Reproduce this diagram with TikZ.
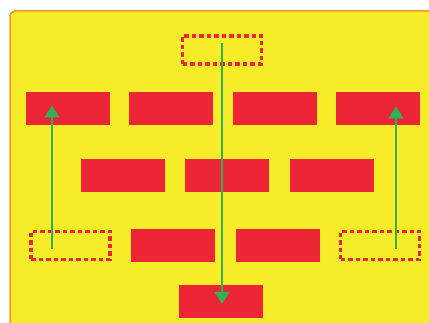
\documentclass[tikz,border=0pt]{standalone}
\usepackage{tikz}
\usetikzlibrary{arrows.meta,calc}
\definecolor{bg}{RGB}{246,236,42}
\definecolor{frame}{RGB}{240,150,50}
\definecolor{blk}{RGB}{236,38,52}
\definecolor{arr}{RGB}{48,178,84}
\tikzset{
  blkbox/.style={fill=blk,minimum width=84pt,minimum height=33pt,inner sep=0pt},
  gapbox/.style={draw=blk,dash pattern=on 4.5pt off 3pt,line width=3.4pt,minimum width=79pt,minimum height=28pt,inner sep=0pt},
  flow/.style={arr,line width=1.3pt,-{Triangle[length=12pt,width=15pt]}}
}

\begin{document}
\begin{tikzpicture}[x=1pt,y=-1pt]
  \useasboundingbox (0,0) rectangle (429,323);
  \clip (0,0) rectangle (429,323);
  \fill[white] (0,0) rectangle (429,323);
  \draw[frame,fill=bg,line width=1.5pt,rounded corners=5pt] (10,11) rectangle (445,340);
  % top gap
  \node[gapbox] (top) at (222,50) {};
  % row 1
  \node[blkbox] (a1) at (68,108.5) {};
  \node[blkbox] (a2) at (171,108.5) {};
  \node[blkbox] (a3) at (275,108.5) {};
  \node[blkbox] (a4) at (377.5,108.5) {};
  % row 2
  \node[blkbox] (b1) at (123,175.5) {};
  \node[blkbox] (b2) at (227,175.5) {};
  \node[blkbox] (b3) at (331.5,175.5) {};
  % row 3
  \node[gapbox] (gl) at (70.5,245.5) {};
  \node[blkbox] (c2) at (173,245.5) {};
  \node[blkbox] (c3) at (278,245.5) {};
  \node[gapbox] (gr) at (380,245.5) {};
  % bottom
  \node[blkbox] (bot) at (220.5,302) {};
  % moves
  \draw[flow] ([yshift=7pt]top.center -| 222,0) -- ([yshift=-2pt]bot.center -| 222,0);
  \draw[flow] ([yshift=-4pt]gl.center -| 52,0) -- ([yshift=3pt]a1.center -| 52,0);
  \draw[flow] ([yshift=-4pt]gr.center -| 396,0) -- ([yshift=2pt]a4.center -| 396,0);
\end{tikzpicture}
\end{document}
